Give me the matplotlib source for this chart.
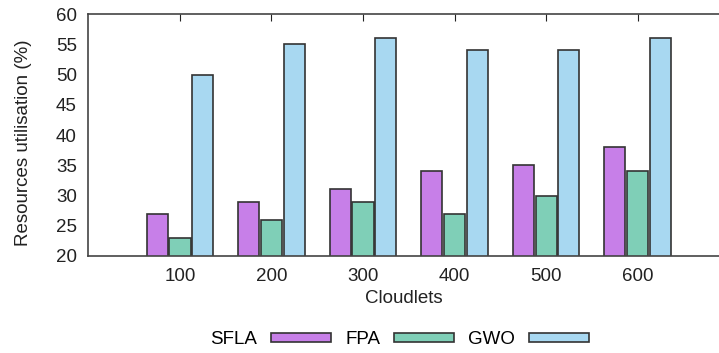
import numpy as np
import matplotlib
matplotlib.use('Agg')
import matplotlib.pyplot as plt

plt.rcParams['font.family'] = ['Liberation Sans', 'DejaVu Sans']

cloudlets = ['100', '200', '300', '400', '500', '600']
sfla = [27, 29, 31, 34, 35, 38]
fpa = [23, 26, 29, 27, 30, 34]
gwo = [50, 55, 56, 54, 54, 56]

fig = plt.figure(figsize=(7.19, 3.53), dpi=100)
ax = fig.add_axes([0.1224, 0.2748, 1 - 0.1224, 0.6855])

x = np.arange(len(cloudlets))
w = 0.23
ax.bar(x - 0.25, sfla, w, color='#c77fe8', edgecolor='#333333', linewidth=1.2, label='SFLA')
ax.bar(x, fpa, w, color='#7fcfb7', edgecolor='#333333', linewidth=1.2, label='FPA')
ax.bar(x + 0.25, gwo, w, color='#a8d8f1', edgecolor='#333333', linewidth=1.2, label='GWO')

ax.set_ylim(20, 60)
ax.set_xlim(-1.005, 5.89)
ax.set_yticks(range(20, 61, 5))
ax.set_xticks(x)
ax.set_xticklabels(cloudlets)
ax.tick_params(axis='y', length=0, labelsize=13.5, pad=8, colors='#222222')
ax.tick_params(axis='x', direction='in', length=5, top=True, bottom=False, labelsize=13.5, pad=9, colors='#222222')
ax.spines['right'].set_visible(False)
for s in ['left', 'bottom', 'top']:
    ax.spines[s].set_color('#444444')
    ax.spines[s].set_linewidth(1.2)

ax.set_xlabel('Cloudlets', fontsize=13.5, labelpad=3, color='#222222')
ax.set_ylabel('Resources utilisation (%)', fontsize=13.5, color='#222222')
ax.yaxis.set_label_coords(-0.088, 0.47)

leg = fig.legend(loc='center', bbox_to_anchor=(0.556, 0.037), ncol=3, frameon=False,
                 markerfirst=False, fontsize=13.5, handlelength=3.2, handleheight=0.32,
                 columnspacing=0.75, handletextpad=0.75)
for h in leg.legend_handles:
    h.set_linewidth(1.2)

fig.savefig('out.png', dpi=100)
